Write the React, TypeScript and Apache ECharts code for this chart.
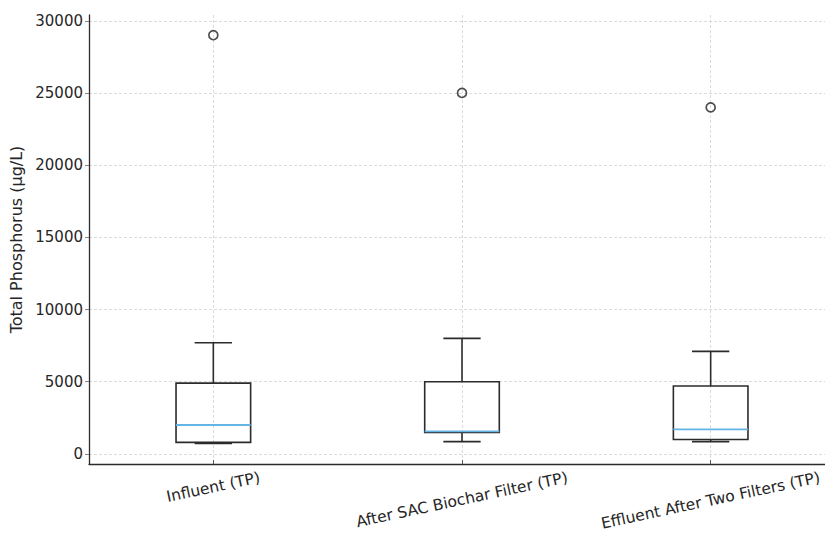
import React, { useEffect, useRef } from "react";
import * as echarts from "echarts";

// ---- data ----
const categories = [
  "Influent (TP)",
  "After SAC Biochar Filter (TP)",
  "Effluent After Two Filters (TP)",
];
const positions = [1, 2, 3];
const whiskerLow = [720, 850, 850];
const q1 = [800, 1480, 1000];
const median = [2000, 1560, 1700];
const q3 = [4900, 5000, 4700];
const whiskerHigh = [7700, 8000, 7100];
const outliers = [29000, 25000, 24000];
const yTicks = [0, 5000, 10000, 15000, 20000, 25000, 30000];
const yMin = -700;
const yMax = 30400;
const xMin = 0.5;
const xMax = 3.5;
const yTitle = "Total Phosphorus (μg/L)";

const FONT = "DejaVu Sans";
const TEXT = "#262626";
const EDGE = "#2b2b2b";
const MEDIAN = "#64b4e6";
const GRID = "#d2d2d2";
const BOX_HALF = 0.15;
const CAP_HALF = 0.075;
const LABEL_ROT = 12;
const LABEL_SIZE = 15.5;

export default function App() {
  const ref = useRef<HTMLDivElement>(null);

  useEffect(() => {
    const chart = echarts.init(ref.current!, null, { renderer: "svg" });
    const boxData = positions.map((p, i) => [
      p,
      whiskerLow[i],
      q1[i],
      median[i],
      q3[i],
      whiskerHigh[i],
    ]);
    const outlierData = positions.map((p, i) => [p, outliers[i]]);

    chart.setOption({
      animation: false,
      grid: {
        left: 89,
        top: 15,
        width: 746,
        height: 449,
        containLabel: false,
        outerBoundsMode: "none",
      },
      xAxis: {
        type: "value",
        min: xMin,
        max: xMax,
        axisLine: {
          show: true,
          onZero: false,
          lineStyle: { color: EDGE, width: 1.3 },
        },
        axisTick: {
          show: true,
          inside: true,
          length: 4,
          customValues: positions,
          lineStyle: { color: "#555" },
        },
        axisLabel: { show: false, customValues: positions },
        splitLine: {
          show: true,
          lineStyle: { type: [3, 2], color: GRID, width: 0.8 },
        },
      },
      yAxis: {
        type: "value",
        min: yMin,
        max: yMax,
        name: yTitle,
        nameLocation: "middle",
        nameGap: 58,
        nameTextStyle: { fontSize: 16, color: TEXT, fontFamily: FONT },
        axisLine: { show: true, lineStyle: { color: EDGE, width: 1.3 } },
        axisTick: {
          show: true,
          length: 4,
          customValues: yTicks,
          lineStyle: { color: "#888" },
        },
        axisLabel: {
          customValues: yTicks,
          formatter: (v: number) => String(v),
          fontSize: 15,
          color: TEXT,
          fontFamily: FONT,
          margin: 6,
        },
        splitLine: {
          show: true,
          lineStyle: { type: [3, 2], color: GRID, width: 0.8 },
        },
      },
      series: [
        {
          type: "custom",
          data: boxData,
          encode: { x: 0, y: [1, 2, 3, 4, 5] },
          renderItem: (params: any, api: any) => {
            const x = api.value(0);
            const lo = api.coord([x, api.value(1)]);
            const b1 = api.coord([x, api.value(2)]);
            const md = api.coord([x, api.value(3)]);
            const b3 = api.coord([x, api.value(4)]);
            const hi = api.coord([x, api.value(5)]);
            const left = api.coord([x - BOX_HALF, 0])[0];
            const right = api.coord([x + BOX_HALF, 0])[0];
            const cl = api.coord([x - CAP_HALF, 0])[0];
            const cr = api.coord([x + CAP_HALF, 0])[0];
            const cx = lo[0];
            const s = { stroke: EDGE, lineWidth: 1.6, fill: "none" };
            return {
              type: "group",
              children: [
                {
                  type: "rect",
                  shape: { x: left, y: b3[1], width: right - left, height: b1[1] - b3[1] },
                  style: s,
                },
                { type: "line", shape: { x1: cx, y1: b3[1], x2: cx, y2: hi[1] }, style: s },
                { type: "line", shape: { x1: cx, y1: b1[1], x2: cx, y2: lo[1] }, style: s },
                { type: "line", shape: { x1: cl, y1: hi[1], x2: cr, y2: hi[1] }, style: s },
                { type: "line", shape: { x1: cl, y1: lo[1], x2: cr, y2: lo[1] }, style: s },
                {
                  type: "line",
                  shape: { x1: left, y1: md[1], x2: right, y2: md[1] },
                  style: { stroke: MEDIAN, lineWidth: 1.8 },
                },
              ],
            };
          },
          z: 3,
        },
        {
          type: "scatter",
          data: outlierData,
          symbol: "circle",
          symbolSize: 9,
          itemStyle: { color: "transparent", borderColor: "#222", borderWidth: 1.7 },
          z: 4,
        },
      ],
    });

    // rotated category labels, anchored by their centre below each tick
    const ctx = document.createElement("canvas").getContext("2d")!;
    ctx.font = `${LABEL_SIZE}px "${FONT}"`;
    const th = (LABEL_ROT * Math.PI) / 180;
    const labels = categories.map((c, i) => {
      const [px, py] = chart.convertToPixel({ gridIndex: 0 }, [positions[i], yMin]) as number[];
      const L = ctx.measureText(c).width;
      const half = (L / 2) * Math.sin(th) + 6.5 * Math.cos(th);
      return {
        type: "text",
        x: px,
        y: py + 7 + half,
        rotation: th,
        style: {
          text: c,
          fontSize: LABEL_SIZE,
          fontFamily: FONT,
          fill: TEXT,
          align: "center",
          verticalAlign: "middle",
        },
      };
    });
    chart.setOption({ graphic: labels });

    return () => chart.dispose();
  }, []);

  return (
    <div
      ref={ref}
      style={{ position: "fixed", left: 0, top: 0, width: 825, height: 534, background: "#fff" }}
    />
  );
}
